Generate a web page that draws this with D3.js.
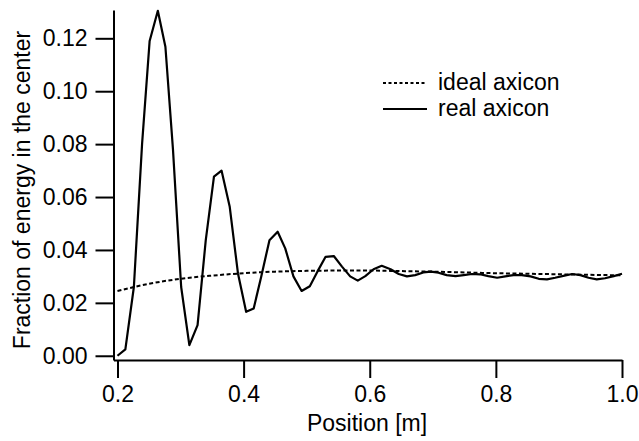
<!DOCTYPE html>
<html>
<head>
<meta charset="utf-8">
<script src="https://cdn.jsdelivr.net/npm/d3@7"></script>
<style>
  html, body { margin: 0; padding: 0; background: #fff; }
  svg { display: block; }
  text { font-family: "Liberation Sans", Arial, Helvetica, sans-serif; fill: #000; }
</style>
</head>
<body>
<svg id="chart" width="639" height="441"></svg>
<script>
// ---- data ----
const realX = [0.200,0.2125,0.226,0.239,0.251,0.264,0.276,0.288,0.301,0.314,0.327,0.340,0.353,0.365,0.378,0.391,0.404,0.416,0.428,0.441,0.454,0.466,0.479,0.492,0.505,0.517,0.530,0.543,0.556,0.569,0.581,0.593,0.606,0.619,0.633,0.646,0.659,0.672,0.685,0.697,0.709,0.722,0.736,0.749,0.762,0.775,0.788,0.802,0.815,0.828,0.841,0.855,0.868,0.881,0.894,0.907,0.921,0.934,0.947,0.960,0.973,0.987,1.000];
const realY = [0.000,0.0024,0.026,0.080,0.119,0.1304,0.1168,0.078,0.026,0.004,0.0116,0.0437,0.0677,0.0700,0.0563,0.0312,0.0166,0.0179,0.0300,0.0437,0.0469,0.0406,0.0300,0.0245,0.0263,0.0318,0.0374,0.0377,0.0337,0.0300,0.0284,0.0301,0.0327,0.0340,0.0327,0.0309,0.0300,0.0305,0.0315,0.0318,0.0314,0.0305,0.0301,0.0305,0.0309,0.0308,0.0301,0.0295,0.0300,0.0305,0.0305,0.0300,0.0291,0.0289,0.0295,0.0302,0.0309,0.0305,0.0295,0.0289,0.0293,0.0301,0.0310];
const idealX = [0.20,0.25,0.30,0.35,0.40,0.45,0.50,0.55,0.60,0.65,0.70,0.75,0.80,0.85,0.90,0.95,1.00];
const idealY = [0.0245,0.0272,0.0291,0.0303,0.0312,0.0318,0.0321,0.0322,0.0322,0.0320,0.0318,0.0315,0.0312,0.0310,0.0308,0.0306,0.0304];
const xTicks = [0.2,0.4,0.6,0.8,1.0];
const yTicks = [0.00,0.02,0.04,0.06,0.08,0.10,0.12];
const seriesNames = ["ideal axicon","real axicon"];
const xTitle = "Position [m]";
const yTitle = "Fraction of energy in the center";

// ---- layout ----
const svg = d3.select("#chart");
const x = d3.scaleLinear().domain([0.1937, 1.0]).range([113.5, 622]);
const y = d3.scaleLinear().domain([-0.0016, 0.1307]).range([360, 10]);
const FS = 23;

const xAxis = d3.axisBottom(x).tickValues(xTicks).tickFormat(d3.format(".1f"))
  .tickSizeInner(18).tickSizeOuter(0).tickPadding(8);
const yAxis = d3.axisLeft(y).tickValues(yTicks).tickFormat(d3.format(".2f"))
  .tickSizeInner(18).tickSizeOuter(0).tickPadding(8);

const gx = svg.append("g").attr("transform", "translate(0,360)").call(xAxis);
const gy = svg.append("g").attr("transform", "translate(113.5,0)").call(yAxis);
[gx, gy].forEach(g => {
  g.select(".domain").attr("stroke", "#000").attr("stroke-width", 2);
  g.selectAll(".tick line").attr("stroke", "#000").attr("stroke-width", 2);
  g.selectAll(".tick text").attr("font-size", FS).attr("font-family", "Liberation Sans, Arial, sans-serif").attr("fill", "#000");
});

// axis titles
svg.append("text").attr("x", 367).attr("y", 431).attr("text-anchor", "middle")
  .attr("font-size", FS).text(xTitle);
svg.append("text").attr("transform", "translate(30,190) rotate(-90)")
  .attr("text-anchor", "middle").attr("font-size", FS).text(yTitle);

// lines
const idealData = idealX.map((v, i) => [v, idealY[i]]);
const realData = realX.map((v, i) => [v, realY[i]]);

svg.append("path").datum(idealData)
  .attr("d", d3.line().x(d => x(d[0])).y(d => y(d[1])).curve(d3.curveMonotoneX))
  .attr("fill", "none").attr("stroke", "#000").attr("stroke-width", 2)
  .attr("stroke-dasharray", "4,2.5");
svg.append("path").datum(realData)
  .attr("d", d3.line().x(d => x(d[0])).y(d => y(d[1])))
  .attr("fill", "none").attr("stroke", "#000").attr("stroke-width", 2.2)
  .attr("stroke-linejoin", "round");

// legend
const legend = svg.append("g");
const legY = [83, 109];
seriesNames.forEach((name, i) => {
  legend.append("line").attr("x1", 383).attr("x2", 427).attr("y1", legY[i]).attr("y2", legY[i])
    .attr("stroke", "#000").attr("stroke-width", 2)
    .attr("stroke-dasharray", i === 0 ? "3,2.5" : null);
  legend.append("text").attr("x", 438).attr("y", legY[i]).attr("dy", "0.32em")
    .attr("font-size", FS).text(name);
});
</script>
</body>
</html>
